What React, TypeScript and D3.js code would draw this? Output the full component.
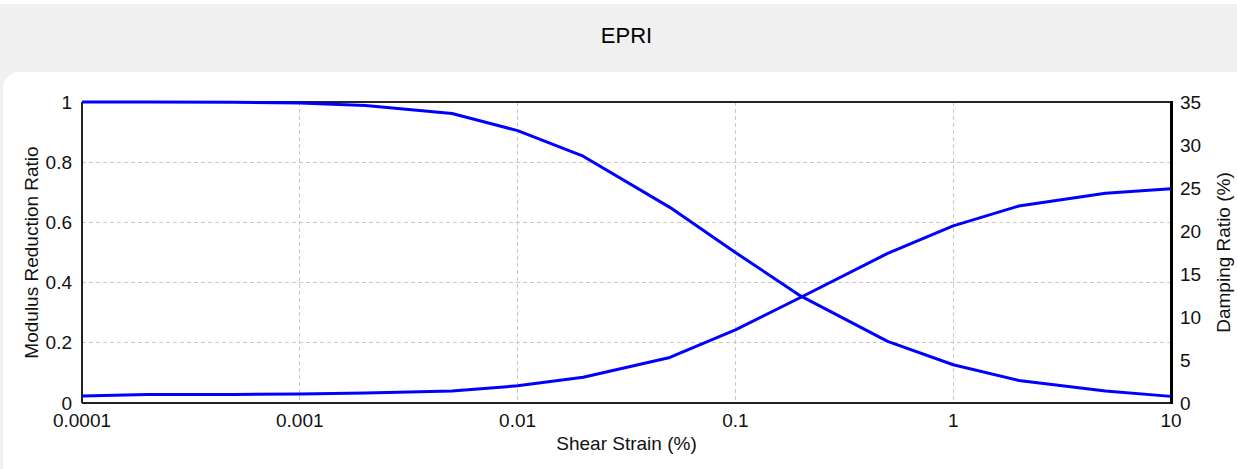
import React from "react";
import * as d3 from "d3";

// Shear strain (%) at which the EPRI curves are tabulated
const strain = [0.0001, 0.0002, 0.0005, 0.001, 0.002, 0.005, 0.01, 0.02, 0.05, 0.1, 0.2, 0.5, 1, 2, 5, 10];
// G/Gmax
const modulusRatio = [1.0, 1.0, 0.999, 0.997, 0.988, 0.962, 0.905, 0.82, 0.65, 0.5, 0.355, 0.205, 0.127, 0.075, 0.04, 0.022];
// Damping ratio (%)
const dampingRatio = [0.8, 1.0, 1.0, 1.05, 1.15, 1.4, 2.0, 3.0, 5.3, 8.5, 12.3, 17.4, 20.6, 22.9, 24.4, 24.9];

const xTicks = [0.0001, 0.001, 0.01, 0.1, 1, 10];
const xTickLabels = ["0.0001", "0.001", "0.01", "0.1", "1", "10"];
const leftTicks = [0, 0.2, 0.4, 0.6, 0.8, 1];
const leftTickLabels = ["0", "0.2", "0.4", "0.6", "0.8", "1"];
const rightTicks = [0, 5, 10, 15, 20, 25, 30, 35];

const W = 1237;
const H = 469;
const plot = { left: 82, right: 1171, top: 102, bottom: 403 };
const FONT = "'Liberation Sans', Arial, sans-serif";

export default function App() {
  const x = d3.scaleLog().domain([0.0001, 10]).range([plot.left, plot.right]);
  const yL = d3.scaleLinear().domain([0, 1]).range([plot.bottom, plot.top]);
  const yR = d3.scaleLinear().domain([0, 35]).range([plot.bottom, plot.top]);

  const modLine = d3
    .line<number>()
    .x((_, i) => x(strain[i]))
    .y((d) => yL(d))(modulusRatio);
  const dampLine = d3
    .line<number>()
    .x((_, i) => x(strain[i]))
    .y((d) => yR(d))(dampingRatio);

  const gridColor = "#c8c8c8";

  return (
    <div style={{ position: "absolute", left: 0, top: 0, width: W, height: H }}>
      <svg width={W} height={H} style={{ display: "block" }} fontFamily={FONT}>
        <rect x={0} y={0} width={W} height={H} fill="#ffffff" />
        <rect x={0} y={4} width={W} height={H} fill="#f0f0f0" />
        <rect x={3} y={72} width={W + 30} height={H} rx={16} ry={16} fill="#ffffff" />

        <text x={(plot.left + plot.right) / 2} y={43} textAnchor="middle" fontSize={22} fill="#000">
          EPRI
        </text>

        {/* grid */}
        {xTicks.slice(1, -1).map((t) => (
          <line
            key={"gx" + t}
            x1={x(t)}
            x2={x(t)}
            y1={plot.top}
            y2={plot.bottom}
            stroke={gridColor}
            strokeDasharray="4,3"
            shapeRendering="crispEdges"
          />
        ))}
        {leftTicks.slice(1, -1).map((t) => (
          <line
            key={"gy" + t}
            x1={plot.left}
            x2={plot.right}
            y1={yL(t)}
            y2={yL(t)}
            stroke={gridColor}
            strokeDasharray="4,3"
            shapeRendering="crispEdges"
          />
        ))}

        {/* frame */}
        <line x1={plot.left} x2={plot.right} y1={plot.top} y2={plot.top} stroke="#222" strokeWidth={2} shapeRendering="crispEdges" />
        <line x1={plot.left} x2={plot.right} y1={plot.bottom} y2={plot.bottom} stroke="#222" strokeWidth={2} shapeRendering="crispEdges" />
        <line x1={plot.left} x2={plot.left} y1={plot.top} y2={plot.bottom} stroke="#222" strokeWidth={2} shapeRendering="crispEdges" />
        <line x1={plot.right} x2={plot.right} y1={plot.top - 1} y2={plot.bottom + 1} stroke="#000" strokeWidth={3} shapeRendering="crispEdges" />

        {/* curves */}
        <path d={modLine ?? ""} fill="none" stroke="#0000ff" strokeWidth={3} strokeLinejoin="round" />
        <path d={dampLine ?? ""} fill="none" stroke="#0000ff" strokeWidth={3} strokeLinejoin="round" />

        {/* x axis labels */}
        {xTicks.map((t, i) => (
          <text key={"xl" + t} x={x(t)} y={427} textAnchor="middle" fontSize={19} fill="#111">
            {xTickLabels[i]}
          </text>
        ))}
        <text x={(plot.left + plot.right) / 2} y={450} textAnchor="middle" fontSize={19} fill="#111">
          Shear Strain (%)
        </text>

        {/* left axis labels */}
        {leftTicks.map((t, i) => (
          <text key={"ll" + t} x={72} y={yL(t)} dy="0.35em" textAnchor="end" fontSize={19} fill="#111">
            {leftTickLabels[i]}
          </text>
        ))}
        <text
          transform={`translate(38,${(plot.top + plot.bottom) / 2}) rotate(-90)`}
          textAnchor="middle"
          fontSize={19}
          fill="#111"
        >
          Modulus Reduction Ratio
        </text>

        {/* right axis labels */}
        {rightTicks.map((t) => (
          <text key={"rl" + t} x={1180} y={yR(t)} dy="0.35em" textAnchor="start" fontSize={19} fill="#111">
            {t}
          </text>
        ))}
        <text
          transform={`translate(1230,${(plot.top + plot.bottom) / 2}) rotate(-90)`}
          textAnchor="middle"
          fontSize={19}
          fill="#111"
        >
          Damping Ratio (%)
        </text>
      </svg>
    </div>
  );
}
